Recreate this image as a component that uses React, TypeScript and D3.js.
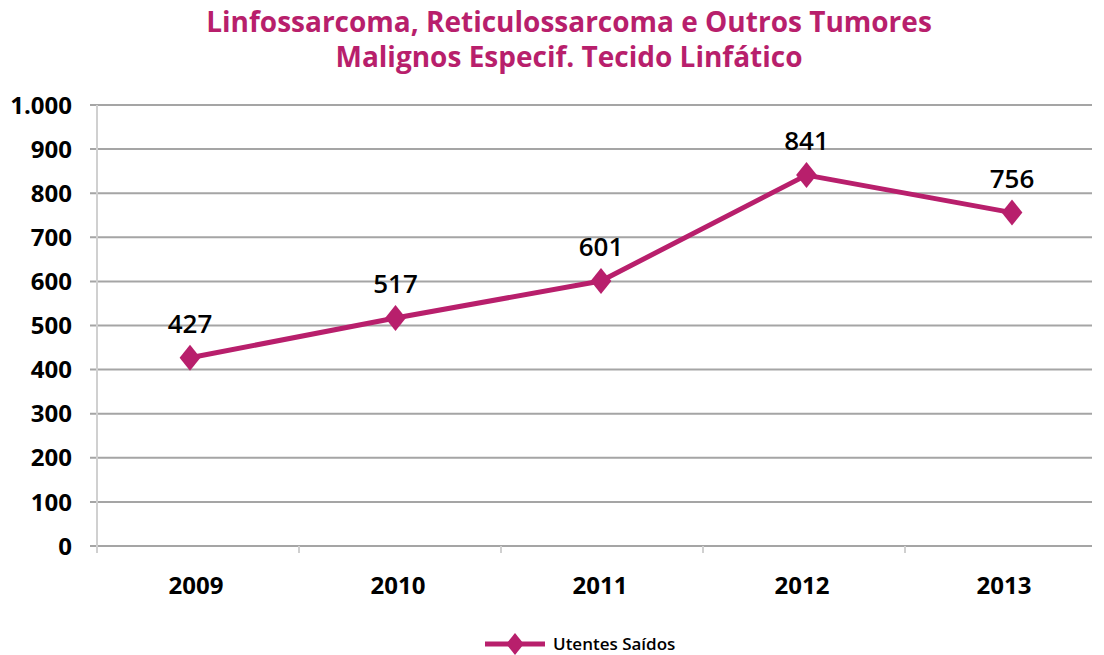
import React from "react";
import * as d3 from "d3";

const years = ["2009", "2010", "2011", "2012", "2013"];
const utentesSaidos = [427, 517, 601, 841, 756];
const yTicks = [0, 100, 200, 300, 400, 500, 600, 700, 800, 900, 1000];
const titleLines = [
  "Linfossarcoma, Reticulossarcoma e Outros Tumores",
  "Malignos Especif. Tecido Linfático",
];
const seriesName = "Utentes Saídos";

const W = 1104;
const H = 655;
const color = "#B81F6C";
const font = "'Open Sans', 'Noto Sans', sans-serif";

function diamond(cx: number, cy: number, r: number) {
  return `M${cx},${cy - r}L${cx + r * 0.8},${cy}L${cx},${cy + r}L${cx - r * 0.8},${cy}Z`;
}

export default function App() {
  // category bands for axis ticks/labels, point scale for the plotted series
  const x = d3.scaleBand().domain(years).range([97, 1107]);
  const xp = d3.scalePoint().domain(years).range([190, 1012]);
  const y = d3.scaleLinear().domain([0, 1000]).range([546, 105]);
  const fmt = (v: number) => d3.format(",")(v).replace(/,/g, ".");

  const line = d3
    .line<number>()
    .x((_, i) => xp(years[i])!)
    .y((d) => y(d));

  return (
    <svg
      width={W}
      height={H}
      style={{ position: "absolute", left: 0, top: 0, background: "#fff" }}
      fontFamily={font}
    >
      {titleLines.map((t, i) => (
        <text
          key={t}
          x={569}
          y={32 + i * 35}
          textAnchor="middle"
          fontSize={28}
          fontWeight={700}
          fill={color}
        >
          {t}
        </text>
      ))}

      {/* gridlines */}
      {yTicks.map((t) => (
        <g key={t}>
          <line x1={90} x2={1092} y1={y(t)} y2={y(t)} stroke="#a5a5a5" strokeWidth={2} />
          <text
            x={72}
            y={y(t)}
            dy="0.36em"
            textAnchor="end"
            fontSize={24}
            fontWeight={700}
            fill="#000"
          >
            {fmt(t)}
          </text>
        </g>
      ))}
      <line x1={97} x2={97} y1={105} y2={553} stroke="#d0d0d0" strokeWidth={2} />
      {years.map((yr) => (
        <g key={yr}>
          <line
            x1={x(yr)!}
            x2={x(yr)!}
            y1={546}
            y2={553}
            stroke="#d0d0d0"
            strokeWidth={2}
          />
          <text
            x={x(yr)! + x.bandwidth() / 2 - 2}
            y={594}
            textAnchor="middle"
            fontSize={24}
            fontWeight={700}
            fill="#000"
          >
            {yr}
          </text>
        </g>
      ))}

      <path d={line(utentesSaidos)!} fill="none" stroke={color} strokeWidth={5} strokeLinejoin="round" />
      {utentesSaidos.map((v, i) => {
        const cx = xp(years[i])!;
        const cy = y(v);
        return (
          <g key={i}>
            <path d={diamond(cx, cy, 13)} fill={color} />
            <text
              x={cx}
              y={cy - 25}
              textAnchor="middle"
              fontSize={26}
              fontWeight={600}
              fill="#000"
            >
              {v}
            </text>
          </g>
        );
      })}

      {/* legend */}
      <line x1={485} x2={545} y1={644} y2={644} stroke={color} strokeWidth={5} />
      <path d={diamond(515, 644, 11)} fill={color} />
      <text x={553} y={644} dy="0.36em" fontSize={17} fontWeight={600} fill="#000">
        {seriesName}
      </text>
    </svg>
  );
}
